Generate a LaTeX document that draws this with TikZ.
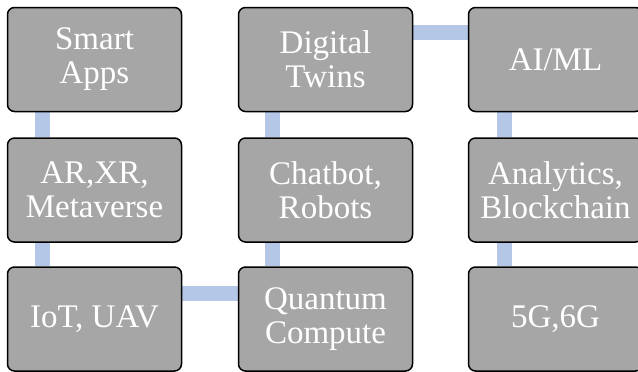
\documentclass[tikz,border=0pt]{standalone}
\usepackage{fontspec}
\setmainfont{Liberation Serif}
\usetikzlibrary{backgrounds}
\definecolor{boxgray}{HTML}{A6A6A6}
\definecolor{connblue}{HTML}{B4C7E7}
\tikzset{
  tbox/.style={draw=black, line width=1.5pt, fill=boxgray, rounded corners=7pt,
    minimum width=174pt, minimum height=104pt, inner sep=0pt, text=white,
    align=center, font=\fontsize{33}{34}\selectfont},
  conn/.style={draw=connblue, line width=15pt}
}
\begin{document}
\begin{tikzpicture}[x=1pt,y=-1pt]
\useasboundingbox (0,0) rectangle (638,372);
% nodes
\node[tbox] (sa) at (94.5,59.5) {Smart\\Apps};
\node[tbox] (ar) at (94.5,190) {AR,XR,\\Metaverse};
\node[tbox] (iot) at (94.5,319) {IoT, UAV};
\node[tbox] (dt) at (325.5,59.5) {Digital\\Twins};
\node[tbox] (cb) at (325.5,190) {Chatbot,\\Robots};
\node[tbox] (qc) at (325.5,319) {Quantum\\Compute};
\node[tbox] (ai) at (555.5,59.5) {AI/ML};
\node[tbox] (an) at (555.5,190) {Analytics,\\Blockchain};
\node[tbox] (g5) at (555.5,319) {5G,6G};
% connectors behind the boxes
\begin{scope}[on background layer]
\draw[conn] ([xshift=-52.5pt]sa.south) -- ([xshift=-52.5pt]ar.north);
\draw[conn] ([xshift=-52.5pt]ar.south) -- ([xshift=-52.5pt]iot.north);
\draw[conn] ([yshift=26pt]iot.east) -- ([yshift=26pt]qc.west);
\draw[conn] ([xshift=-53.5pt]qc.north) -- ([xshift=-53.5pt]cb.south);
\draw[conn] ([xshift=-53.5pt]cb.north) -- ([xshift=-53.5pt]dt.south);
\draw[conn] ([yshift=27.5pt]dt.east) -- ([yshift=27.5pt]ai.west);
\draw[conn] ([xshift=-51.5pt]ai.south) -- ([xshift=-51.5pt]an.north);
\draw[conn] ([xshift=-51.5pt]an.south) -- ([xshift=-51.5pt]g5.north);
\end{scope}
\end{tikzpicture}
\end{document}
